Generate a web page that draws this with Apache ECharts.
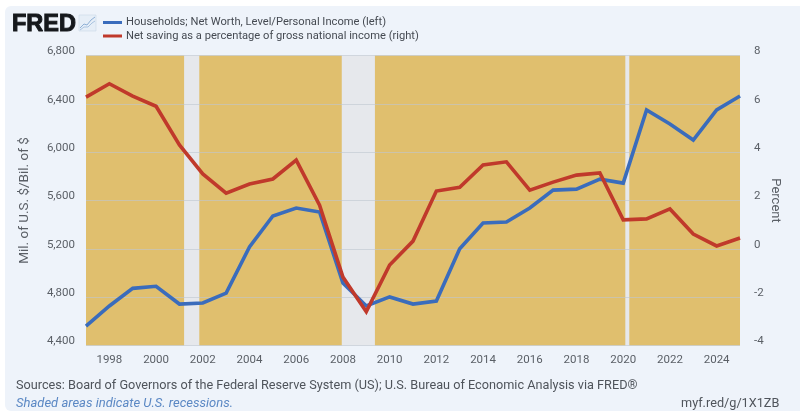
<!DOCTYPE html>
<html><head><meta charset="utf-8">
<style>html,body{margin:0;padding:0;background:#fff}#c{width:800px;height:416px}</style>
<script src="https://cdn.jsdelivr.net/npm/echarts@6/dist/echarts.min.js"></script>
</head><body><div id="c"></div>
<script>
const years=[1997,1998,1999,2000,2001,2002,2003,2004,2005,2006,2007,2008,2009,2010,2011,2012,2013,2014,2015,2016,2017,2018,2019,2020,2021,2022,2023,2024,2025];
const netWorth=[4560,4727,4873,4890,4743,4752,4834,5215,5472,5538,5505,4917,4727,4802,4743,4768,5200,5414,5422,5538,5686,5694,5777,5744,6350,6233,6100,6350,6465];
const saving=[6.28,6.83,6.32,5.9,4.3,3.1,2.3,2.68,2.89,3.67,1.81,-1.17,-2.6,-0.67,0.32,2.39,2.55,3.47,3.6,2.43,2.76,3.05,3.14,1.2,1.24,1.65,0.61,0.12,0.45];
const tickYears=[1998,2000,2002,2004,2006,2008,2010,2012,2014,2016,2018,2020,2022,2024];
const expansions=[[1997,2001.2],[2001.85,2007.95],[2009.37,2020.09],[2020.26,2025]];
const seriesNames=['Households; Net Worth, Level/Personal Income (left)','Net saving as a percentage of gross national income (right)'];
const colBlue='#3A6CBC',colRed='#C0392B',gold='#E0BF6E',band='#E6E8EC',txt='#5a5f66';
const font='Roboto';
const chart=echarts.init(document.getElementById('c'),null,{renderer:'canvas'});
chart.setOption({
 animation:false,backgroundColor:'#fff',textStyle:{fontFamily:font},
 grid:{left:86,right:60,top:55.5,bottom:70.5,show:true,z:0,backgroundColor:band,borderWidth:0},
 legend:{left:98,top:12,orient:'vertical',itemGap:2.5,itemWidth:19,itemHeight:3,icon:'rect',selectedMode:false,
  textStyle:{fontFamily:font,fontSize:11.15,color:'#454a52',padding:[0,0,0,-1]},data:seriesNames},
 xAxis:{type:'value',min:1997,max:2025,splitLine:{show:false},axisLine:{show:false},axisTick:{show:false},
  axisLabel:{customValues:tickYears,formatter:v=>String(v),color:txt,fontSize:11.5,margin:9,fontFamily:font}},
 yAxis:[
  {type:'value',min:4400,max:6800,interval:400,z:3,position:'left',name:'Mil. of U.S. $/Bil. of $',nameLocation:'middle',nameGap:54,nameRotate:90,nameMoveOverlap:false,
   nameTextStyle:{color:txt,fontSize:13.5,fontFamily:font},
   axisLine:{show:false},axisTick:{show:false},
   axisLabel:{color:txt,fontSize:11.5,margin:11,verticalAlign:'bottom',lineHeight:8,fontFamily:font,formatter:v=>v.toLocaleString('en-US')},
   splitLine:{show:true,lineStyle:{color:'rgba(190,198,208,0.6)',width:1}}},
  {type:'value',min:-4,max:8,interval:2,position:'right',name:'Percent',nameLocation:'middle',nameGap:29,nameRotate:-90,nameMoveOverlap:false,
   nameTextStyle:{color:txt,fontSize:13,fontFamily:font},
   axisLine:{show:false},axisTick:{show:false},
   axisLabel:{color:txt,fontSize:11.5,margin:14,verticalAlign:'bottom',lineHeight:8,fontFamily:font},splitLine:{show:false}}
 ],
 series:[
  {type:'line',name:'bands',z:1,data:[],silent:true,
   markArea:{silent:true,z:1,itemStyle:{color:gold},data:expansions.map(r=>[{xAxis:r[0]},{xAxis:r[1]}])}},
  {type:'line',name:seriesNames[0],yAxisIndex:0,z:5,showSymbol:false,data:years.map((y,i)=>[y,netWorth[i]]),
   lineStyle:{color:colBlue,width:3.6,join:'miter'},itemStyle:{color:colBlue}},
  {type:'line',name:seriesNames[1],yAxisIndex:1,z:6,showSymbol:false,data:years.map((y,i)=>[y,saving[i]]),
   lineStyle:{color:colRed,width:3.6,join:'miter'},itemStyle:{color:colRed}}
 ],
 graphic:[
  {type:'rect',z:-10,silent:true,shape:{x:5,y:6,width:800,height:405,r:6},style:{fill:'#EEF3FA'}},
  {type:'text',x:12,y:12.5,z:5,style:{text:'FRED',font:'900 23.5px "Liberation Sans", Roboto',fill:'#15181c',stroke:'#15181c',lineWidth:1}},
  {type:'rect',x:79,y:15,z:5,shape:{x:0,y:0,width:17,height:16},style:{fill:'#E6EEF7',stroke:'#C9D8E8',lineWidth:.6}},
  {type:'polyline',x:79,y:15,z:6,shape:{points:[[1,13],[5,9],[8,10],[12,5],[16,2]]},style:{fill:'none',stroke:'#8FB0D6',lineWidth:1}},
  {type:'polyline',x:79,y:15,z:6,shape:{points:[[1,15],[5,12],[9,12],[13,8],[16,6]]},style:{fill:'none',stroke:'#A9C3E0',lineWidth:1}},
  {type:'text',x:16,y:379,z:5,style:{text:'Sources: Board of Governors of the Federal Reserve System (US); U.S. Bureau of Economic Analysis via FRED®',font:'12.7px Roboto',fill:'#4f545b'}},
  {type:'text',x:16,y:397,z:5,style:{text:'Shaded areas indicate U.S. recessions.',font:'italic 13px Roboto',fill:'#5B88C4'}},
  {type:'text',x:681,y:397,z:5,style:{text:'myf.red/g/1X1ZB',font:'12.7px Roboto',fill:'#4f545b'}}
 ]
});
</script></body></html>
